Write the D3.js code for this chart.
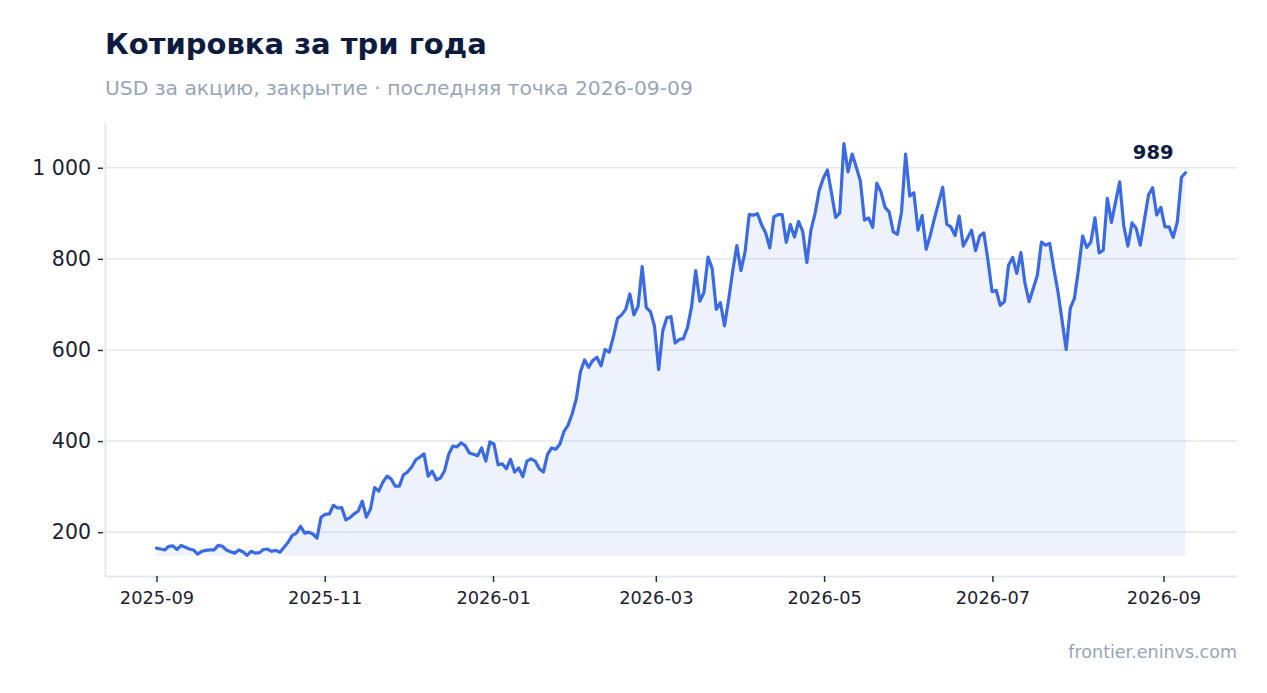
<!DOCTYPE html>
<html>
<head>
<meta charset="utf-8">
<script src="https://cdn.jsdelivr.net/npm/d3@7/dist/d3.min.js"></script>
<style>
  html, body { margin: 0; padding: 0; background: #ffffff; }
  svg { display: block; font-family: "DejaVu Sans", sans-serif; }
</style>
</head>
<body>
<svg id="chart" width="1267" height="693"></svg>
<script>
// ---- Data ----
const titleText = "Котировка за три года";
const subtitleText = "USD за акцию, закрытие · последняя точка 2026-09-09";
const sourceText = "frontier.eninvs.com";
const startDate = "2025-09-01";
const endDate = "2026-09-09";
const yTicks = [200, 400, 600, 800, 1000];
const xTicks = ["2025-09-01", "2025-11-01", "2026-01-01", "2026-03-01", "2026-05-01", "2026-07-01", "2026-09-01"];
const closes = [
  165,163,161,169,170,162,171,167,163,161,
  152,158,160,161,161,171,169,161,157,154,
  161,157,149,158,154,155,162,163,158,160,
  156,167,178,193,198,213,198,200,196,187,
  233,239,240,259,253,254,227,232,240,246,
  268,233,251,298,
  290,310,323,317,301,301,326,332,343,359,
  365,372,323,334,315,319,335,371,389,387,
  396,390,374,371,368,385,356,398,393,348,
  350,339,360,332,341,322,356,361,356,339,
  332,371,385,382,393,421,435,460,493,552,
  578,562,577,584,565,
  601,595,629,669,677,689,723,677,696,783,
  693,684,652,557,642,671,673,615,623,625,
  649,695,774,707,726,804,779,689,704,653,
  710,774,829,774,816,897,896,899,875,857,
  824,892,897,897,836,875,848,882,860,792,
  863,900,950,977,995,944,891,901,1053,991,
  1030,1002,971,885,890,869,966,947,913,903,
  859,854,903,1030,938,945,863,895,821,852,
  889,923,957,876,870,851,894,828,845,863,
  818,850,857,797,728,731,698,706,786,803,
  768,814,746,706,735,764,837,830,834,778,
  728,665,601,692,713,777,850,825,837,890,
  813,819,933,880,925,969,872,828,879,867,
  830,885,940,956,896,913,870,870,847,881,
  979,989
];

// ---- Build series ----
const parse = d3.utcParse("%Y-%m-%d");
const t0 = parse(startDate), t1 = parse(endDate);
const n = closes.length;
const data = closes.map((v, i) => ({
  date: new Date(+t0 + (t1 - t0) * i / (n - 1)),
  value: v
}));

// ---- Layout ----
const plot = { left: 105, right: 1237, top: 123, bottom: 576 };
const svg = d3.select("#chart");

const tSpan = t1 - t0;
const x = d3.scaleUtc()
  .domain([new Date(+t0 - tSpan * 0.05), new Date(+t1 + tSpan * 0.05)])
  .range([plot.left, plot.right]);

const vMin = d3.min(closes), vMax = d3.max(closes);
const vSpan = vMax - vMin;
const y = d3.scaleLinear()
  .domain([vMin - vSpan * 0.05, vMax + vSpan * 0.05])
  .range([plot.bottom, plot.top]);

const ru = d3.formatLocale({ decimal: ",", thousands: "\u00a0", grouping: [3], currency: ["", ""] });
const fmtY = ru.format(",d");
const fmtX = d3.utcFormat("%Y-%m");

// Gridlines
svg.append("g")
  .selectAll("line")
  .data(yTicks)
  .join("line")
  .attr("x1", plot.left).attr("x2", plot.right)
  .attr("y1", d => y(d)).attr("y2", d => y(d))
  .attr("stroke", "#e3e7ef").attr("stroke-width", 1.5);

// Area
const lineColor = "#3a6be4";
svg.append("path")
  .datum(data)
  .attr("fill", lineColor)
  .attr("fill-opacity", 0.09)
  .attr("d", d3.area().x(d => x(d.date)).y0(y(vMin)).y1(d => y(d.value)));

// Line
svg.append("path")
  .datum(data)
  .attr("fill", "none")
  .attr("stroke", lineColor)
  .attr("stroke-width", 3.2)
  .attr("stroke-linejoin", "round")
  .attr("stroke-linecap", "round")
  .attr("d", d3.line().x(d => x(d.date)).y(d => y(d.value)));

// Y axis
const yAxis = svg.append("g")
  .attr("transform", `translate(${plot.left},0)`)
  .call(d3.axisLeft(y).tickValues(yTicks).tickFormat(fmtY).tickSize(7).tickSizeOuter(0).tickPadding(7));
yAxis.select(".domain").attr("stroke", "#e3e7ef").attr("stroke-width", 2);
yAxis.selectAll(".tick line").attr("stroke", "#2b2f3a").attr("stroke-width", 1.5)
  .attr("x2", -7).attr("x1", -2);
yAxis.selectAll(".tick text")
  .attr("font-family", "DejaVu Sans, sans-serif")
  .attr("font-size", 20.5).attr("fill", "#1c2230");

// X axis
const xAxis = svg.append("g")
  .attr("transform", `translate(0,${plot.bottom})`)
  .call(d3.axisBottom(x).tickValues(xTicks.map(parse)).tickFormat(fmtX).tickSize(6).tickSizeOuter(0).tickPadding(9));
xAxis.select(".domain").attr("stroke", "#e3e7ef").attr("stroke-width", 2);
xAxis.selectAll(".tick line").attr("stroke", "#2b2f3a").attr("stroke-width", 1.5);
xAxis.selectAll(".tick text")
  .attr("font-family", "DejaVu Sans, sans-serif")
  .attr("font-size", 17.8).attr("fill", "#1c2230");

// Last value label
const last = data[data.length - 1];
svg.append("text")
  .attr("x", x(last.date) - 12)
  .attr("y", y(last.value) - 14)
  .attr("text-anchor", "end")
  .attr("font-size", 19.5).attr("font-weight", "bold")
  .attr("fill", "#0d1b3e")
  .text(d3.format("d")(last.value));

// Titles
svg.append("text")
  .attr("x", 105).attr("y", 54)
  .attr("font-size", 29).attr("font-weight", "bold")
  .attr("fill", "#0d1b3e")
  .text(titleText);
svg.append("text")
  .attr("x", 105).attr("y", 95)
  .attr("font-size", 20.3)
  .attr("fill", "#98a5b8")
  .text(subtitleText);
svg.append("text")
  .attr("x", plot.right).attr("y", 658)
  .attr("text-anchor", "end")
  .attr("font-size", 17.5)
  .attr("fill", "#98a5b8")
  .text(sourceText);
</script>
</body>
</html>
